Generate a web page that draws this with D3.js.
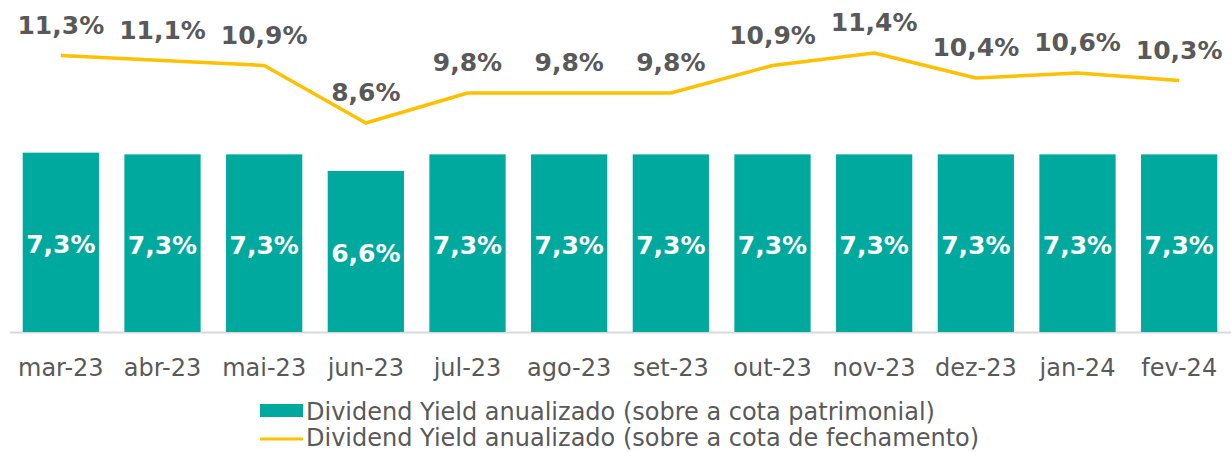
<!DOCTYPE html>
<html>
<head>
<meta charset="utf-8">
<script src="https://cdn.jsdelivr.net/npm/d3@7"></script>
<style>
  html, body { margin: 0; padding: 0; background: #fff; }
  svg { display: block; font-family: 'DejaVu Sans', Verdana, sans-serif; }
</style>
</head>
<body>
<svg id="chart" width="1231" height="452"></svg>
<script>
// ##### Data
var months = ['mar-23', 'abr-23', 'mai-23', 'jun-23', 'jul-23', 'ago-23',
              'set-23', 'out-23', 'nov-23', 'dez-23', 'jan-24', 'fev-24'];

// Dividend Yield anualizado (sobre a cota patrimonial), in %
var dyPatrimonial = [7.35, 7.28, 7.28, 6.6, 7.28, 7.28, 7.28, 7.28, 7.28, 7.28, 7.28, 7.28];

// Dividend Yield anualizado (sobre a cota de fechamento), in %
var dyFechamento = [11.3, 11.1, 10.9, 8.6, 9.8, 9.8, 9.8, 10.9, 11.4, 10.4, 10.6, 10.3];

var seriesNames = [
  'Dividend Yield anualizado (sobre a cota patrimonial)',
  'Dividend Yield anualizado (sobre a cota de fechamento)'
];

// ##### Styles
var teal = '#00A99D';
var yellow = '#FFC000';
var grey = '#595959';

// Format like "7,3%"
function pct(v) {
  return v.toFixed(1).replace('.', ',') + '%';
}

// ##### Scales
var svg = d3.select('#chart');

var x = d3.scaleBand()
  .domain(months)
  .range([10, 1230])
  .paddingInner(0.25)
  .paddingOuter(0.125);

// Bars on the primary axis
var yBar = d3.scaleLinear().domain([0, 8]).range([332, 136.8]);

// Line on the secondary axis
var yLine = d3.scaleLinear().domain([0, 12]).range([338, 38]);

// ##### Axis line and category labels
var xAxis = d3.axisBottom(x).tickSize(0).tickPadding(27);
var axisG = svg.append('g')
  .attr('transform', 'translate(0,' + yBar(0) + ')')
  .call(xAxis);
axisG.select('.domain')
  .attr('d', 'M10,0.5H1231')
  .attr('stroke', '#D9D9D9')
  .attr('stroke-width', 2);
axisG.selectAll('text')
  .attr('fill', grey)
  .style('font-family', "'DejaVu Sans', Verdana, sans-serif")
  .style('font-size', '24px');

// ##### Bars
svg.append('g').selectAll('rect')
  .data(dyPatrimonial)
  .enter()
  .append('rect')
  .attr('x', function(d, i) { return x(months[i]); })
  .attr('y', function(d) { return yBar(d); })
  .attr('width', x.bandwidth())
  .attr('height', function(d) { return yBar(0) - yBar(d); })
  .attr('fill', teal);

// Labels inside the bars
svg.append('g').selectAll('text')
  .data(dyPatrimonial)
  .enter()
  .append('text')
  .attr('x', function(d, i) { return x(months[i]) + x.bandwidth() / 2; })
  .attr('y', function(d) { return (yBar(d) + yBar(0)) / 2 + 11; })
  .attr('text-anchor', 'middle')
  .attr('fill', '#fff')
  .attr('font-weight', 'bold')
  .attr('font-size', 25)
  .text(function(d) { return pct(d); });

// ##### Line
var line = d3.line()
  .x(function(d, i) { return x(months[i]) + x.bandwidth() / 2; })
  .y(function(d) { return yLine(d); });

svg.append('path')
  .datum(dyFechamento)
  .attr('d', line)
  .attr('fill', 'none')
  .attr('stroke', yellow)
  .attr('stroke-width', 3.5)
  .attr('stroke-linejoin', 'round');

// Labels above the line
svg.append('g').selectAll('text')
  .data(dyFechamento)
  .enter()
  .append('text')
  .attr('x', function(d, i) { return x(months[i]) + x.bandwidth() / 2; })
  .attr('y', function(d) { return yLine(d) - 22; })
  .attr('text-anchor', 'middle')
  .attr('fill', grey)
  .attr('font-weight', 'bold')
  .attr('font-size', 25)
  .text(function(d) { return pct(d); });

// ##### Legend
var legend = svg.append('g').attr('transform', 'translate(260,0)');

legend.append('rect')
  .attr('x', 0).attr('y', 404)
  .attr('width', 43).attr('height', 13)
  .attr('fill', teal);

legend.append('line')
  .attr('x1', 0).attr('x2', 43)
  .attr('y1', 439).attr('y2', 439)
  .attr('stroke', yellow)
  .attr('stroke-width', 3);

legend.selectAll('text')
  .data(seriesNames)
  .enter()
  .append('text')
  .attr('x', 46)
  .attr('y', function(d, i) { return 420 + i * 26; })
  .attr('fill', grey)
  .attr('font-size', 24)
  .text(function(d) { return d; });
</script>
</body>
</html>
